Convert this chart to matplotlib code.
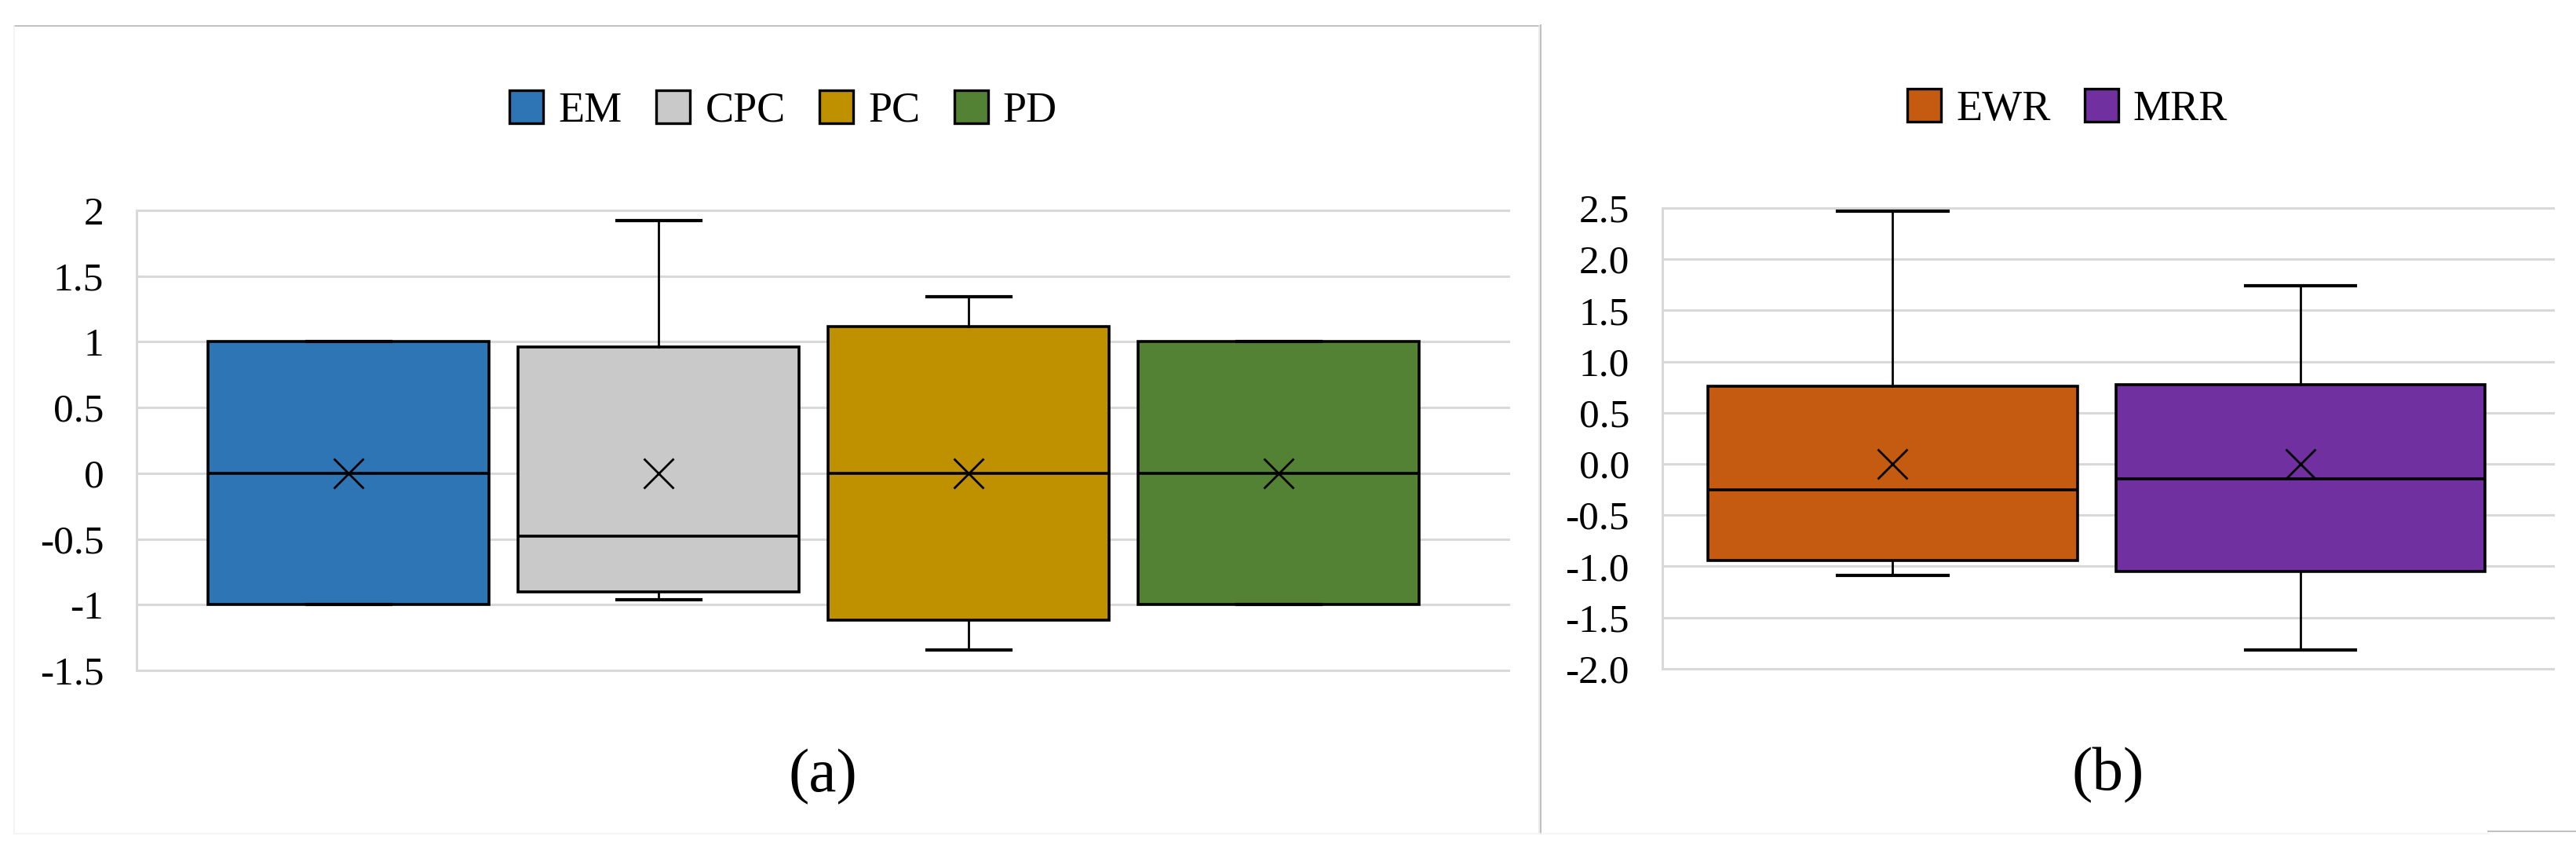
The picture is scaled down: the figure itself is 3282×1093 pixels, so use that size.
import matplotlib as mpl
import matplotlib.pyplot as plt
from matplotlib.lines import Line2D
from matplotlib.patches import Patch
from matplotlib.ticker import FuncFormatter

mpl.use("Agg")

plt.rcParams["font.family"] = ["Liberation Serif", "DejaVu Serif"]
plt.rcParams["axes.unicode_minus"] = False

# panel (a)
names_a = ["EM", "CPC", "PC", "PD"]
colors_a = ["#2E75B6", "#C9C9C9", "#BF9000", "#548235"]
whislo_a = [-1.0, -0.96, -1.345, -1.0]
q1_a = [-1.0, -0.90, -1.115, -1.0]
med_a = [0.0, -0.478, 0.0, 0.0]
q3_a = [1.0, 0.962, 1.117, 1.0]
whishi_a = [1.0, 1.923, 1.345, 1.0]
mean_a = [0.0, 0.0, 0.0, 0.0]
yticks_a = [-1.5, -1.0, -0.5, 0.0, 0.5, 1.0, 1.5, 2.0]

# panel (b)
names_b = ["EWR", "MRR"]
colors_b = ["#C55A11", "#7030A0"]
whislo_b = [-1.086, -1.82]
q1_b = [-0.943, -1.054]
med_b = [-0.253, -0.143]
q3_b = [0.761, 0.778]
whishi_b = [2.466, 1.744]
mean_b = [0.0, 0.0]
yticks_b = [-2.0, -1.5, -1.0, -0.5, 0.0, 0.5, 1.0, 1.5, 2.0, 2.5]

W, H = 3282, 1093
GRID = "#D9D9D9"


def _stats(names, lo, q1, med, q3, hi, mean):
    return [
        dict(label=n, whislo=a, q1=b, med=c, q3=d, whishi=e, mean=f, fliers=[])
        for n, a, b, c, d, e, f in zip(names, lo, q1, med, q3, hi, mean)
    ]


def _draw(ax, stats, colors, xlim, yticks, fmt):
    pos = list(range(1, len(stats) + 1))
    art = ax.bxp(
        stats,
        positions=pos,
        widths=0.906,
        capwidths=0.27,
        patch_artist=True,
        showmeans=True,
        showfliers=False,
        manage_ticks=False,
        boxprops=dict(edgecolor="black", linewidth=2.6),
        medianprops=dict(color="black", linewidth=2.6),
        whiskerprops=dict(color="black", linewidth=2.0),
        capprops=dict(color="black", linewidth=3.0),
        meanprops=dict(marker="x", markeredgecolor="black", markersize=27, markeredgewidth=2.0),
    )
    for box, c in zip(art["boxes"], colors):
        box.set_facecolor(c)
    ax.set_xlim(*xlim)
    ax.set_ylim(yticks[0], yticks[-1])
    ax.set_yticks(yticks)
    ax.yaxis.set_major_formatter(FuncFormatter(fmt))
    ax.set_xticks([])
    ax.set_axisbelow(True)
    ax.grid(axis="y", color=GRID, linewidth=2.2)
    for gl in ax.get_ygridlines():
        gl.set_clip_on(False)
    for s in ("top", "right", "bottom"):
        ax.spines[s].set_visible(False)
    ax.spines["left"].set_color(GRID)
    ax.spines["left"].set_linewidth(2.2)
    ax.tick_params(axis="y", length=0, pad=30, labelsize=37)


fig = plt.figure(figsize=(W / 100, H / 100), dpi=100)

ax_a = fig.add_axes([174 / W, 1 - 854 / H, (1921.7 - 174) / W, (854 - 268) / H])
_draw(
    ax_a,
    _stats(names_a, whislo_a, q1_a, med_a, q3_a, whishi_a, mean_a),
    colors_a,
    (1 - 0.684, 4 + 0.74),
    yticks_a,
    lambda v, _: f"{v:g}",
)

ax_b = fig.add_axes([2117.7 / W, 1 - 851.7 / H, (3253 - 2117.7) / W, (851.7 - 265) / H])
_draw(
    ax_b,
    _stats(names_b, whislo_b, q1_b, med_b, q3_b, whishi_b, mean_b),
    colors_b,
    (1 - 0.5655, 2 + 0.62),
    yticks_b,
    lambda v, _: f"{v:.1f}",
)

# legends
for names, colors, cx, cy in (
    (names_a, colors_a, 998, 141),
    (names_b, colors_b, 2634, 139),
):
    handles = [Patch(facecolor=c, edgecolor="black", linewidth=2.4) for c in colors]
    fig.legend(
        handles,
        names,
        loc="center",
        bbox_to_anchor=(cx / W, 1 - cy / H),
        ncol=len(names),
        frameon=False,
        fontsize=39,
        handlelength=0.8,
        handleheight=0.8,
        handletextpad=0.35,
        columnspacing=0.8,
        borderpad=0,
    )

# panel captions
fig.text(1048 / W, 1 - 990 / H, "(a)", fontsize=57, ha="center", va="center")
fig.text(2686 / W, 1 - 988 / H, "(b)", fontsize=57, ha="center", va="center")

# panel frame lines
def _fline(x0, y0, x1, y1, color, lw):
    fig.add_artist(
        Line2D([x0 / W, x1 / W], [1 - y0 / H, 1 - y1 / H], color=color, linewidth=lw, transform=fig.transFigure)
    )


_fline(17.5, 33, 1961, 33, "#C0C0C0", 1.4)
_fline(1961, 33, 1961, 1062, "#E6E6E6", 1.2)
_fline(1963.5, 32, 1963.5, 1062, "#C0C0C0", 1.4)
_fline(17.5, 33, 17.5, 1062, "#F2F2F2", 1.2)
_fline(17.5, 1062, 3170, 1062, "#F4F4F4", 1.2)
_fline(3170, 1059, 3282, 1059, "#C0C0C0", 1.4)

fig.savefig("out.png", dpi=100)
